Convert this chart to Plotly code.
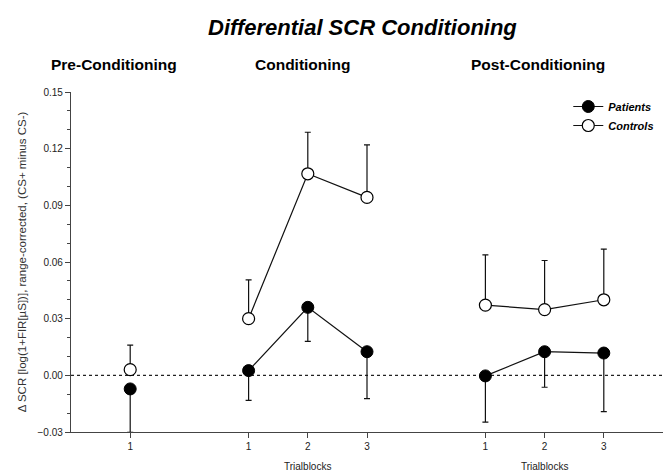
import plotly.graph_objects as go

# Positions on a continuous x axis: Pre(1), Conditioning(1,2,3), Post(1,2,3)
x_pos = [1, None, 3, 4, 5, None, 7, 8, 9]
tick_vals = [1, 3, 4, 5, 7, 8, 9]
tick_text = ["1", "1", "2", "3", "1", "2", "3"]

patients = [-0.0072, None, 0.0025, 0.0360, 0.0125, None, -0.0003, 0.0125, 0.0118]
patients_err = [0.023, None, 0.0158, 0.0180, 0.0248, None, 0.0245, 0.0188, 0.0310]

controls = [0.0030, None, 0.0300, 0.1067, 0.0942, None, 0.0372, 0.0348, 0.0400]
controls_err = [0.0130, None, 0.0205, 0.0220, 0.0278, None, 0.0266, 0.0260, 0.0268]

phase_titles = ["Pre-Conditioning", "Conditioning", "Post-Conditioning"]
phase_title_x = [0.73, 3.92, 7.89]
xlabel_x = [4, 8]

FONT = "Liberation Sans, Arial, sans-serif"

fig = go.Figure()

zero_err = [0 if v is not None else None for v in patients_err]
fig.add_trace(go.Scatter(
    x=x_pos, y=patients, name="Patients", mode="lines+markers",
    line=dict(color="#111", width=1.2),
    marker=dict(color="#000", size=12, line=dict(color="#000", width=1)),
    error_y=dict(type="data", symmetric=False, array=zero_err, arrayminus=patients_err,
                 color="#111", thickness=1.2, width=3),
    connectgaps=False,
))
fig.add_trace(go.Scatter(
    x=x_pos, y=controls, name="Controls", mode="lines+markers",
    line=dict(color="#111", width=1.2),
    marker=dict(color="#fff", size=12, line=dict(color="#000", width=1.2)),
    error_y=dict(type="data", symmetric=False, array=controls_err, arrayminus=zero_err,
                 color="#111", thickness=1.2, width=3),
    connectgaps=False,
))

fig.add_shape(type="line", xref="x", yref="y", x0=0, x1=10, y0=0, y1=0,
              line=dict(color="#222", width=1.2, dash="dot"), layer="below")

fig.add_annotation(text="<b><i>Differential SCR Conditioning</i></b>",
                   xref="paper", yref="paper", x=(362 - 71) / 592, y=1 + (92 - 27) / 340,
                   yanchor="middle", showarrow=False,
                   font=dict(size=22, family=FONT, color="#000"))
for t, xx in zip(phase_titles, phase_title_x):
    fig.add_annotation(text="<b>" + t + "</b>", xref="x", yref="paper", x=xx,
                       y=1 + (92 - 64) / 340, yanchor="middle", showarrow=False,
                       font=dict(size=15.5, family=FONT, color="#000"))
for xx in xlabel_x:
    fig.add_annotation(text="Trialblocks", xref="x", yref="paper", x=xx,
                       y=-(466 - 432) / 340, yanchor="middle", showarrow=False,
                       font=dict(size=10, family=FONT, color="#222"))

fig.update_layout(
    width=665, height=473,
    margin=dict(l=71, r=2, t=92, b=41),
    paper_bgcolor="white", plot_bgcolor="white",
    font=dict(family=FONT, color="#222"),
    showlegend=True,
    legend=dict(x=0.84, y=1.0, xanchor="left", yanchor="top",
                bgcolor="rgba(0,0,0,0)", font=dict(size=11, family=FONT, color="#000"),
                itemwidth=30, tracegroupgap=0),
    xaxis=dict(range=[0, 10], tickvals=tick_vals, ticktext=tick_text,
               showline=True, linecolor="#444", linewidth=1.3, ticks="outside",
               ticklen=5, tickcolor="#444", showgrid=False, zeroline=False,
               tickfont=dict(size=10, color="#222")),
    yaxis=dict(range=[-0.03, 0.15], tick0=0, dtick=0.03, tickformat=".2f",
               showline=True, linecolor="#444", linewidth=1.3, ticks="outside",
               ticklen=5, tickcolor="#444", showgrid=False, zeroline=False,
               tickfont=dict(size=10, color="#222"),
               minor=dict(dtick=0.01, ticks="outside", ticklen=3, tickcolor="#444", showgrid=False),
               title=dict(text="Δ SCR [log(1+FIR[µS])], range-corrected, (CS+ minus CS-)",
                          font=dict(size=11.5, family=FONT, color="#333"), standoff=8)),
)
fig.for_each_trace(lambda tr: tr.update(name="<b><i>" + tr.name + "</i></b>"))

fig.write_html("out.html")
